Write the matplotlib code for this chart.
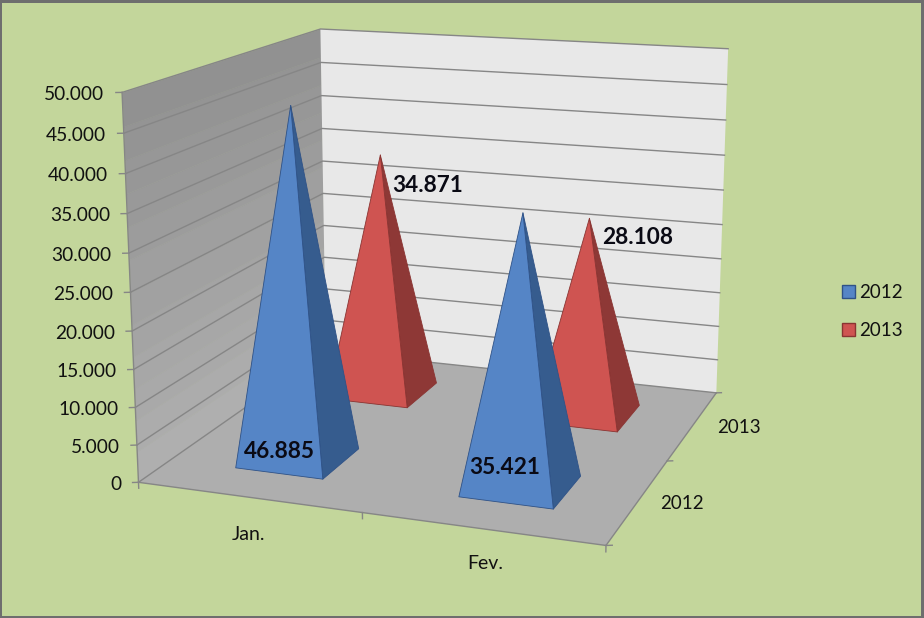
import numpy as np
import matplotlib
matplotlib.use('Agg')
import matplotlib.pyplot as plt
from matplotlib.patches import Patch, Rectangle
from mpl_toolkits.mplot3d import proj3d
from mpl_toolkits.mplot3d.art3d import Poly3DCollection

plt.rcParams['font.family'] = ['Lato', 'DejaVu Sans']

months = ['Jan.', 'Fev.']
series = ['2012', '2013']
val_2012 = [46885, 35421]
val_2013 = [34871, 28108]
z_ticks = [0, 5000, 10000, 15000, 20000, 25000, 30000, 35000, 40000, 45000, 50000]
blue = ['#5585c6', '#365c8e', '#2f5287']
red = ['#cf5451', '#8e3836', '#8a3432']

W, H, S = 924, 618, 1600
tx, ty = 424.4, 277.8


def fmt(v):
    return f'{v:,}'.replace(',', '.')


fig = plt.figure(figsize=(W / 100, H / 100), dpi=100, facecolor='#6e6e6e')
fig.patches.append(Rectangle((2 / W, 2 / H), (W - 5) / W, (H - 5) / H, transform=fig.transFigure, fc='#c3d69b', ec='none', zorder=-1))
ax = fig.add_axes([(tx - S / 2) / W, 1 - (ty + S / 2) / H, S / W, S / H], projection='3d', computed_zorder=False)
ax.set_axis_off()
ax.patch.set_alpha(0)
ax.set_xlim(0, 2)
ax.set_ylim(0, 2)
ax.set_zlim(0, 50000)
# camera fitted to the wall corners
ax.view_init(14.2572, -70.1846, 0.0660)
ax.set_proj_type('persp', focal_length=np.exp(-1.4798))
ax.set_box_aspect((1, np.exp(-0.0169), np.exp(-0.2041)), zoom=np.exp(-0.7873))


def label(x, y, z, s, **kw):
    # plain 2D text at the projected spot
    px, py, _ = proj3d.proj_transform(x, y, z, ax.get_proj())
    ax.text2D(px, py, s, transform=ax.transData, color='#111111', va='center', zorder=9, **kw)


# walls
nb = 12
for i in range(nb):
    z0, z1 = 50000 * i / nb, 50000 * (i + 1) / nb
    g = 0.69 - 0.125 * (i + 0.5) / nb
    ax.add_collection3d(Poly3DCollection([[(0, 0, z0), (0, 2, z0), (0, 2, z1), (0, 0, z1)]], fc=(g, g, g), ec=(g, g, g), lw=0.3, zorder=1))
ax.add_collection3d(Poly3DCollection([[(0, 2, 0), (2, 2, 0), (2, 2, 50000), (0, 2, 50000)]], fc='#e8e8e8', ec='none', zorder=1))
ax.add_collection3d(Poly3DCollection([[(0, 0, 0), (2, 0, 0), (2, 2, 0), (0, 2, 0)]], fc='#aeaeae', ec='none', zorder=2))

line = dict(color='#868686', lw=1.0, zorder=3)
for z in z_ticks:
    ax.plot([0, 0, 2], [0, 2, 2], [z, z, z], **line)
    ax.plot([0, -0.022], [0, -0.0103], [z, z], **line)
    label(-0.062, -0.03, z - 250, fmt(z), ha='right', fontsize=13.8)
ax.plot([0, 0], [0, 0], [0, 50000], **line)
ax.plot([0, 2, 2], [0, 0, 2], [0, 0, 0], **line)
for x in [0, 1, 2]:
    ax.plot([x, x], [0, 0], [0, -800], **line)
for y in [0, 1, 2]:
    ax.plot([2, 2.022], [y, y + 0.0103], [0, 0], **line)

for i, m in enumerate(months):
    label(i * 0.95 + 0.67, -0.36 + 0.04 * i, 0, m, ha='center', fontsize=14)
for j, s in enumerate(series):
    label(2.09 + 0.02 * j, j + 0.5, 0, s, ha='left', fontsize=13.5)

# pyramids, back row first
hx, hy = 0.2, 0.2
for j, vals, col in [(1, val_2013, red), (0, val_2012, blue)]:
    for i, v in enumerate(vals):
        cx, cy = i + 0.5, j + 0.5
        front = [(cx - hx, cy - hy, 0), (cx + hx, cy - hy, 0), (cx, cy, v)]
        side = [(cx + hx, cy - hy, 0), (cx + hx, cy + hy, 0), (cx, cy, v)]
        ax.add_collection3d(Poly3DCollection([side], fc=col[1], ec=col[2], lw=0.6, zorder=5))
        ax.add_collection3d(Poly3DCollection([front], fc=col[0], ec=col[2], lw=0.6, zorder=5))

lab = dict(fontsize=16.3, fontweight='bold', color='#0a0a14', ha='center', va='center', zorder=10)
fig.text(279.5 / W, 1 - 452 / H, fmt(val_2012[0]), **lab)
fig.text(505 / W, 1 - 467 / H, fmt(val_2012[1]), **lab)
fig.text(428 / W, 1 - 186 / H, fmt(val_2013[0]), **lab)
fig.text(638 / W, 1 - 237 / H, fmt(val_2013[1]), **lab)

handles = [Patch(fc=blue[0], ec=blue[2], label=series[0]), Patch(fc=red[0], ec=red[2], label=series[1])]
fig.legend(handles=handles, loc='center left', bbox_to_anchor=(825 / W, 1 - 311.5 / H), frameon=False, fontsize=13.5,
           handlelength=0.7, handleheight=0.7, handletextpad=0.2, labelspacing=1.15, labelcolor='#111111')

fig.savefig('out.png', dpi=100, facecolor=fig.get_facecolor())
